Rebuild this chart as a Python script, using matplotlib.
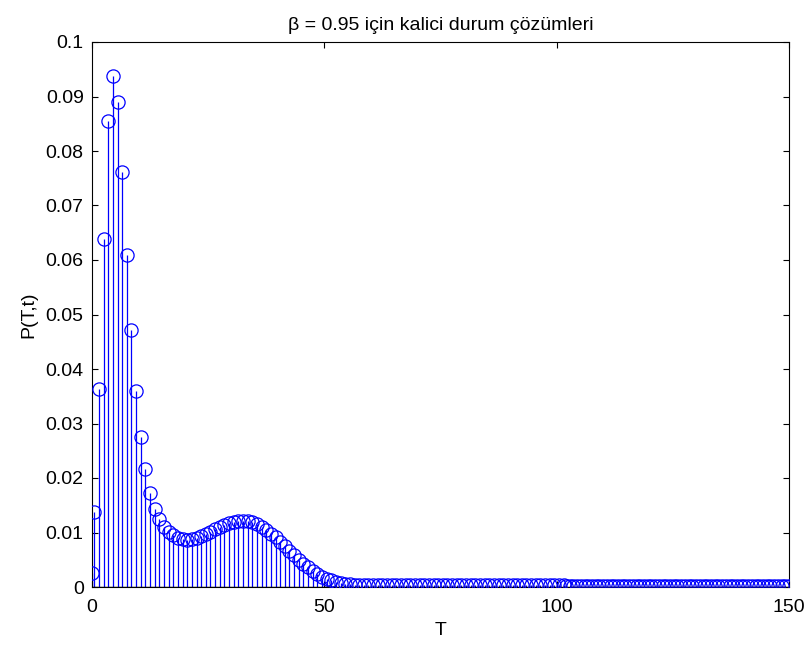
import numpy as np
import matplotlib
matplotlib.use("Agg")
import matplotlib.pyplot as plt

plt.rcParams['font.family'] = ['Liberation Sans', 'DejaVu Sans']

# Sample positions (T) and values P(T,t)
T_main = [0.0] + [k + 0.5 for k in range(0, 102)]
P_main = [0.0026, 0.0138, 0.0363, 0.0638, 0.0855, 0.0937, 0.0890, 0.0761, 0.0609, 0.0471,
          0.0360, 0.0275, 0.0216, 0.0172, 0.0144, 0.0124, 0.0111, 0.0101, 0.0095, 0.0090,
          0.0088, 0.0087, 0.0088, 0.0090, 0.0093, 0.0097, 0.0101, 0.0106, 0.0110, 0.0114,
          0.0117, 0.0120, 0.0121, 0.0122, 0.0121, 0.0119, 0.0116, 0.0111, 0.0105, 0.0098,
          0.0091, 0.0083, 0.0075, 0.0066, 0.0058, 0.0050, 0.0043, 0.0036, 0.0030, 0.0024,
          0.0019, 0.0015, 0.0012, 0.0010, 0.0008, 0.0006, 0.0005, 0.0004, 0.0004] + [0.0003] * 44
T_tail = list(np.linspace(102.0, 150.0, 61))
P_tail = [0.0002] * 61

T = np.array(T_main + T_tail)
P = np.array(P_main + P_tail)

x_ticks = [0, 50, 100, 150]
y_ticks = [0, 0.01, 0.02, 0.03, 0.04, 0.05, 0.06, 0.07, 0.08, 0.09, 0.1]
y_tick_labels = ['0', '0.01', '0.02', '0.03', '0.04', '0.05', '0.06', '0.07', '0.08', '0.09', '0.1']

FS = 14

fig = plt.figure(figsize=(8.1, 6.48), dpi=100)
ax = fig.add_axes([92/810, 1-587/648, (789-92)/810, (587-42)/648])

ax.vlines(T, 0, P, colors='#0000ff', linewidth=0.9, zorder=2)
ax.plot(T, P, linestyle='none', marker='o', markersize=9.5, markerfacecolor='none',
        markeredgecolor='#0000ff', markeredgewidth=0.9, zorder=3)
ax.axhline(0, color='black', linewidth=1.0, zorder=4)

ax.set_xlim(0, 150)
ax.set_ylim(0, 0.1)
ax.set_xticks(x_ticks)
ax.set_yticks(y_ticks)
ax.set_yticklabels(y_tick_labels)
ax.tick_params(direction='in', top=True, right=True, length=4, width=0.8,
               labelsize=FS)
ax.tick_params(axis='y', pad=6)
ax.tick_params(axis='x', pad=9)
for s in ax.spines.values():
    s.set_linewidth(0.8)

ax.set_xlabel('T', fontsize=FS, labelpad=4)
ax.set_ylabel('P(T,t)', fontsize=FS, labelpad=6)
ax.set_title('β = 0.95 için kalici durum çözümleri', fontsize=FS, pad=9)

fig.savefig('out.png', dpi=100)
